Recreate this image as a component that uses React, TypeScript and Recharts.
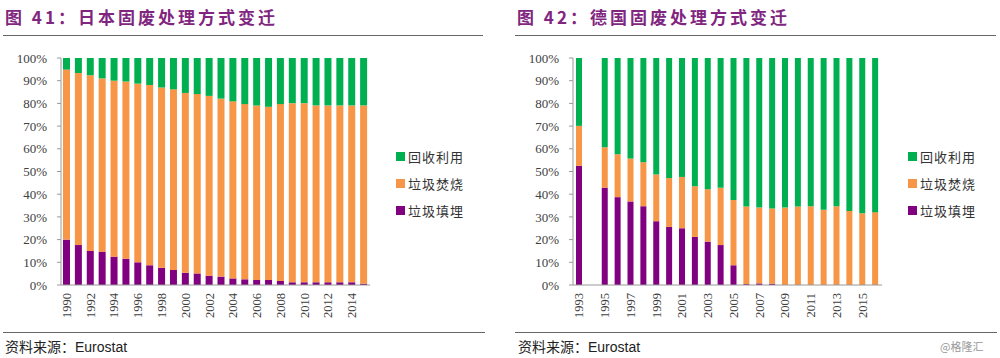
import React from "react";
import { BarChart, Bar, XAxis, YAxis } from "recharts";

const GREEN = "#00B050";
const ORANGE = "#F79646";
const PURPLE = "#800080";

// 日本 1990-2015
const jpYears = [
  "1990", "1991", "1992", "1993", "1994", "1995", "1996", "1997", "1998", "1999",
  "2000", "2001", "2002", "2003", "2004", "2005", "2006", "2007", "2008", "2009",
  "2010", "2011", "2012", "2013", "2014", "2015",
];
const jpLandfill = [
  20, 17.6, 15, 14.7, 12.5, 11.6, 10, 8.7, 7.6, 6.6, 5.4, 5.1, 4.1, 3.7, 2.9, 2.5,
  2.2, 2.2, 1.8, 1.2, 1.2, 1.2, 1.2, 1.2, 1.2, 0.6,
];
const jpIncineration = [
  74.9, 75.8, 77.4, 76.3, 77.5, 78.1, 78.7, 79.4, 79.4, 79.6, 79.2, 79.0, 79.2, 78.4,
  78.0, 77.2, 76.9, 76.3, 77.9, 78.9, 78.9, 77.9, 77.9, 77.9, 77.9, 78.5,
];
const jpRecycling = [
  5.1, 6.6, 7.6, 9.0, 10.0, 10.3, 11.3, 11.9, 13.0, 13.8, 15.4, 15.9, 16.7, 17.9,
  19.1, 20.3, 20.9, 21.5, 20.3, 19.9, 19.9, 20.9, 20.9, 20.9, 20.9, 20.9,
];

// 德国 1993-2016 (1994 无数据)
const deYears = [
  "1993", "1994", "1995", "1996", "1997", "1998", "1999", "2000", "2001", "2002",
  "2003", "2004", "2005", "2006", "2007", "2008", "2009", "2010", "2011", "2012",
  "2013", "2014", "2015", "2016",
];
const deLandfill = [
  52.5, null, 42.9, 38.7, 36.8, 34.7, 28.1, 25.6, 25.0, 21.2, 19.1, 17.6, 8.7, 0.4,
  0.7, 0.6, 0, 0, 0, 0, 0, 0, 0, 0,
];
const deIncineration = [
  17.6, null, 17.8, 18.9, 18.9, 19.4, 20.6, 21.5, 22.6, 22.3, 23.1, 25.2, 28.8, 34.2,
  33.4, 33.1, 34.1, 34.6, 34.7, 33.1, 34.7, 32.6, 31.6, 32.1,
];
const deRecycling = [
  29.9, null, 39.3, 42.4, 44.3, 45.9, 51.3, 52.9, 52.4, 56.5, 57.8, 57.2, 62.5, 65.4,
  65.9, 66.3, 65.9, 65.4, 65.3, 66.9, 65.3, 67.4, 68.4, 67.9,
];

const yTicks = [0, 10, 20, 30, 40, 50, 60, 70, 80, 90, 100];

const SERIES = [
  { key: "landfill", name: "垃圾填埋", color: PURPLE },
  { key: "incineration", name: "垃圾焚烧", color: ORANGE },
  { key: "recycling", name: "回收利用", color: GREEN },
];

const buildRows = (
  years: string[],
  landfill: (number | null)[],
  incineration: (number | null)[],
  recycling: (number | null)[]
) =>
  years.map((year, i) => ({
    year,
    landfill: landfill[i],
    incineration: incineration[i],
    recycling: recycling[i],
  }));

const jpData = buildRows(jpYears, jpLandfill, jpIncineration, jpRecycling);
const deData = buildRows(deYears, deLandfill, deIncineration, deRecycling);

const SERIF = '"Liberation Serif", "Times New Roman", serif';
const CJK = '"Noto Sans CJK SC", sans-serif';

function YearTick(props: any) {
  const { x, y, payload } = props;
  return (
    <text
      x={x}
      y={y}
      transform={`rotate(-90, ${x}, ${y})`}
      textAnchor="end"
      dominantBaseline="central"
      fontFamily={SERIF}
      fontSize={12.5}
      fill="#404040"
    >
      {payload.value}
    </text>
  );
}

function LegendBox({ left }: { left: number }) {
  const items = [...SERIES].reverse();
  return (
    <div style={{ position: "absolute", left, top: 143 }}>
      {items.map((s) => (
        <div
          key={s.key}
          style={{ display: "flex", alignItems: "center", height: 27, fontFamily: CJK, fontSize: 13, color: "#333", letterSpacing: 1 }}
        >
          <span style={{ width: 9, height: 9, background: s.color, marginRight: 3, display: "inline-block" }} />
          {s.name}
        </div>
      ))}
    </div>
  );
}

function Panel({ data, barSize }: { data: any[]; barSize: number }) {
  return (
    <BarChart
      width={490}
      height={280}
      data={data}
      margin={{ top: 8, right: 120, bottom: 10, left: 10 }}
      barSize={barSize}
    >
      <XAxis
        dataKey="year"
        interval={1}
        tick={<YearTick />}
        tickLine={false}
        axisLine={{ stroke: "#999" }}
        height={35}
      />
      <YAxis
        domain={[0, 100]}
        ticks={yTicks}
        tickFormatter={(v) => `${v}%`}
        width={51}
        tickSize={4}
        tickMargin={10}
        interval={0}
        axisLine={{ stroke: "#999" }}
        tickLine={{ stroke: "#999" }}
        tick={{ fontFamily: SERIF, fontSize: 13, fill: "#404040" }}
      />
      {SERIES.map((s) => (
        <Bar key={s.key} dataKey={s.key} name={s.name} stackId="a" fill={s.color} isAnimationActive={false} />
      ))}
    </BarChart>
  );
}

const titleStyle: React.CSSProperties = {
  position: "absolute",
  top: 4,
  fontFamily: CJK,
  fontWeight: 700,
  fontSize: 17,
  color: "#80267F",
  letterSpacing: 3,
  whiteSpace: "nowrap",
};

const footStyle: React.CSSProperties = {
  position: "absolute",
  top: 336,
  fontSize: 14,
  color: "#222",
  whiteSpace: "nowrap",
};

const rule = (left: number, width: number, top: number): React.CSSProperties => ({
  position: "absolute",
  left,
  width,
  top,
  height: 1,
  background: "#666",
});

export default function App() {
  return (
    <div style={{ position: "absolute", left: 0, top: 0, width: 1000, height: 358, background: "#fff", overflow: "hidden" }}>
      <div style={{ ...titleStyle, left: 5 }}>图 41：日本固废处理方式变迁</div>
      <div style={{ ...titleStyle, left: 517 }}>图 42：德国固废处理方式变迁</div>
      <div style={rule(3, 480, 35)} />
      <div style={rule(515, 481, 35)} />

      <div style={{ position: "absolute", left: 0, top: 50 }}>
        <Panel data={jpData} barSize={7} />
      </div>
      <div style={{ position: "absolute", left: 512, top: 50 }}>
        <Panel data={deData} barSize={6} />
      </div>
      <LegendBox left={396} />
      <LegendBox left={908} />

      <div style={rule(3, 482, 332)} />
      <div style={rule(515, 482, 332)} />
      <div style={{ ...footStyle, left: 5 }}>
        <span style={{ fontFamily: CJK }}>资料来源：</span>
        <span style={{ fontFamily: '"Liberation Sans", Arial, sans-serif' }}>Eurostat</span>
      </div>
      <div style={{ ...footStyle, left: 518 }}>
        <span style={{ fontFamily: CJK }}>资料来源：</span>
        <span style={{ fontFamily: '"Liberation Sans", Arial, sans-serif' }}>Eurostat</span>
      </div>
      <div style={{ position: "absolute", left: 940, top: 338, fontFamily: CJK, fontSize: 11, color: "#999" }}>@格隆汇</div>
    </div>
  );
}
